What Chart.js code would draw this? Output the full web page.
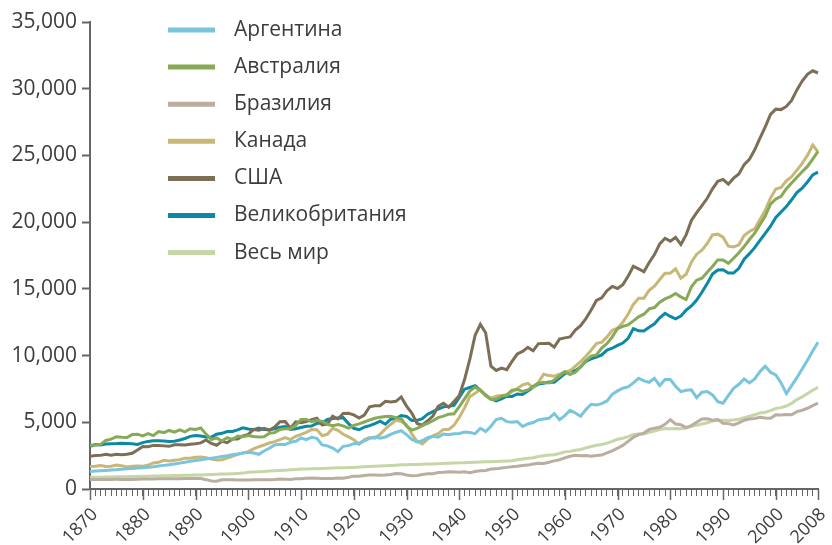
<!DOCTYPE html>
<html lang="ru">
<head>
<meta charset="utf-8">
<title>ВВП на душу населения, 1870–2008</title>
<script src="https://cdn.jsdelivr.net/npm/chart.js@4"></script>
<style>
  html, body { margin: 0; padding: 0; background: #fff; }
  #wrap { position: relative; width: 832px; height: 545px; }
</style>
</head>
<body>
<div id="wrap"><canvas id="gdpChart"></canvas></div>
<script>
// годы по оси X
const years = [];
for (let y = 1870; y <= 2008; y++) years.push(y);

// подписанные годы
const tickYears = [1870, 1880, 1890, 1900, 1910, 1920, 1930, 1940, 1950, 1960, 1970, 1980, 1990, 2000, 2008];

// ВВП на душу населения по годам, 1870–2008
const argentina = [
  1311, 1340, 1365, 1395, 1420, 1450, 1480, 1510, 1540, 1570,
  1590, 1630, 1670, 1720, 1770, 1820, 1880, 1940, 2000, 2070,
  2130, 2190, 2250, 2310, 2370, 2430, 2490, 2560, 2630, 2690,
  2756, 2700, 2600, 2850, 3050, 3300, 3350, 3330, 3500, 3580,
  3822, 3700, 3880, 3797, 3302, 3231, 3070, 2800, 3200, 3250,
  3400, 3430, 3600, 3800, 3900, 3800, 3900, 4100, 4250, 4367,
  4080, 3712, 3522, 3622, 3845, 3950, 3886, 4125, 4072, 4148,
  4161, 4265, 4230, 4150, 4550, 4300, 4700, 5200, 5300, 5050,
  5000, 5050, 4680, 4874, 4980, 5180, 5250, 5300, 5650, 5200,
  5500, 5900, 5700, 5450, 5950, 6350, 6300, 6400, 6600, 7100,
  7350, 7550, 7650, 7950, 8300, 8100, 8000, 8300, 7750, 8200,
  8206, 7700, 7300, 7400, 7430, 6850, 7250, 7300, 7050, 6550,
  6430, 7000, 7550, 7850, 8250, 7950, 8250, 8800, 9200, 8750,
  8550, 7950, 7150, 7750, 8350, 9000, 9650, 10350, 11000
];

const australia = [
  3273, 3299, 3327, 3641, 3738, 3917, 3876, 3860, 4078, 4106,
  3985, 4144, 4001, 4300, 4228, 4388, 4259, 4438, 4286, 4516,
  4458, 4571, 4114, 3708, 3831, 3595, 3844, 3703, 3962, 3911,
  4013, 3938, 3890, 3919, 4186, 4224, 4465, 4516, 4512, 4776,
  5210, 5209, 5038, 5157, 5070, 4839, 4743, 4823, 4731, 4563,
  4766, 4881, 5024, 5175, 5299, 5385, 5439, 5446, 5352, 5263,
  4708, 4416, 4542, 4744, 4921, 5115, 5347, 5459, 5610, 5631,
  6166, 6752, 7340, 7637, 7398, 7005, 6712, 6731, 6963, 7055,
  7412, 7463, 7319, 7424, 7701, 7936, 7992, 7941, 8165, 8469,
  8791, 8569, 8744, 9142, 9610, 9966, 10050, 10560, 10900, 11400,
  12024, 12190, 12300, 12600, 12900, 13100, 13500, 13600, 14000, 14250,
  14412, 14650, 14400, 14200, 15150, 15650, 15800, 16250, 16680, 17170,
  17170, 16920, 17290, 17700, 18170, 18700, 19170, 19800, 20450, 21350,
  21732, 21929, 22504, 22940, 23363, 23776, 24176, 24724, 25301
];

const brazil = [
  713, 710, 720, 718, 720, 723, 720, 715, 720, 730,
  752, 750, 755, 760, 765, 760, 770, 775, 780, 785,
  794, 780, 700, 600, 580, 690, 700, 690, 680, 675,
  678, 700, 690, 695, 700, 705, 750, 740, 720, 760,
  769, 800, 830, 811, 780, 790, 790, 820, 800, 880,
  963, 960, 1010, 1050, 1040, 1030, 1050, 1090, 1160, 1137,
  1048, 1000, 1020, 1080, 1140, 1150, 1240, 1250, 1290, 1280,
  1250, 1290, 1220, 1310, 1370, 1390, 1500, 1510, 1580, 1620,
  1672, 1700, 1760, 1790, 1870, 1930, 1910, 2010, 2110, 2190,
  2335, 2450, 2530, 2500, 2510, 2448, 2510, 2540, 2700, 2860,
  3057, 3270, 3570, 3882, 4080, 4190, 4460, 4560, 4630, 4850,
  5195, 4870, 4820, 4600, 4750, 5000, 5250, 5260, 5150, 5210,
  4923, 4900, 4800, 4950, 5150, 5250, 5280, 5380, 5330, 5300,
  5556, 5550, 5580, 5560, 5800, 5900, 6050, 6250, 6429
];

const canada = [
  1680, 1700, 1760, 1680, 1700, 1790, 1750, 1650, 1700, 1720,
  1700, 1780, 1950, 2000, 2150, 2100, 2150, 2200, 2300, 2300,
  2380, 2400, 2350, 2250, 2170, 2200, 2320, 2450, 2600, 2700,
  2800, 3000, 3170, 3300, 3450, 3550, 3700, 3850, 3700, 3950,
  4100, 4250, 4450, 4447, 4000, 4100, 4550, 4400, 4100, 3900,
  3700, 3350, 3700, 3850, 3800, 4100, 4500, 4850, 5150, 5065,
  4811, 4132, 3568, 3370, 3744, 3977, 4155, 4466, 4465, 4778,
  5368, 6079, 6925, 7169, 7447, 7000, 6800, 6950, 7000, 7050,
  7291, 7533, 7800, 7920, 7600, 8000, 8600, 8500, 8450, 8600,
  8800, 8850, 9200, 9550, 9950, 10400, 10900, 11000, 11400, 11900,
  12050, 12500, 13100, 13838, 14300, 14300, 14900, 15200, 15700, 16170,
  16176, 16500, 15800, 16100, 17000, 17600, 17900, 18400, 19040, 19100,
  18872, 18200, 18140, 18300, 19000, 19300, 19500, 20200, 20900, 21800,
  22488, 22600, 23100, 23400, 23900, 24400, 25000, 25780, 25267
];

const usa = [
  2445, 2503, 2520, 2601, 2531, 2599, 2568, 2606, 2681, 2920,
  3184, 3164, 3266, 3261, 3232, 3197, 3309, 3312, 3294, 3346,
  3392, 3453, 3675, 3418, 3279, 3576, 3470, 3740, 3747, 3988,
  4091, 4467, 4399, 4549, 4404, 4642, 5046, 5052, 4552, 5037,
  4964, 5046, 5201, 5301, 4799, 4864, 5459, 5248, 5659, 5680,
  5552, 5323, 5540, 6164, 6233, 6246, 6575, 6525, 6569, 6899,
  6213, 5691, 4908, 4777, 5114, 5467, 6204, 6430, 6126, 6561,
  7010, 8206, 9741, 11518, 12333, 11709, 9197, 8886, 9065, 8944,
  9561, 10116, 10316, 10613, 10359, 10897, 10914, 10920, 10631, 11230,
  11328, 11402, 11905, 12242, 12773, 13419, 14134, 14330, 14863, 15179,
  15030, 15304, 15944, 16689, 16491, 16284, 16975, 17567, 18373, 18789,
  18577, 18856, 18325, 19048, 20123, 20717, 21236, 21788, 22499, 23059,
  23201, 22849, 23298, 23616, 24311, 24703, 25422, 26292, 27142, 28079,
  28467, 28434, 28672, 29127, 29908, 30572, 31080, 31346, 31178
];

const uk = [
  3190, 3332, 3307, 3368, 3398, 3405, 3426, 3409, 3395, 3337,
  3477, 3568, 3624, 3618, 3597, 3558, 3581, 3676, 3786, 3943,
  4009, 3968, 3893, 3887, 4102, 4172, 4301, 4316, 4429, 4585,
  4492, 4450, 4567, 4450, 4444, 4521, 4627, 4678, 4457, 4513,
  4611, 4706, 4714, 4921, 4927, 5208, 5289, 5316, 5347, 4901,
  4548, 4439, 4637, 4746, 4898, 5079, 4853, 5231, 5274, 5503,
  5441, 5138, 5148, 5277, 5608, 5799, 5994, 6157, 6204, 6262,
  6856, 7482, 7609, 7745, 7394, 7056, 6749, 6604, 6746, 6956,
  6939, 7123, 7091, 7346, 7619, 7868, 7929, 8017, 8004, 8306,
  8645, 8857, 8865, 9149, 9568, 9752, 9885, 10049, 10410, 10552,
  10767, 10941, 11294, 12025, 11859, 11847, 12115, 12384, 12828, 13167,
  12931, 12747, 12955, 13404, 13720, 14165, 14742, 15393, 16110, 16414,
  16430, 16186, 16180, 16537, 17222, 17641, 18090, 18632, 19159, 19697,
  20353, 20763, 21165, 21676, 22213, 22550, 23013, 23545, 23742
];

const world = [
  873, 880, 888, 895, 902, 910, 918, 926, 934, 942,
  950, 959, 968, 977, 986, 995, 1005, 1015, 1025, 1035,
  1045, 1058, 1072, 1085, 1100, 1115, 1130, 1150, 1170, 1190,
  1262, 1280, 1300, 1320, 1340, 1360, 1385, 1410, 1440, 1470,
  1490, 1505, 1515, 1526, 1540, 1555, 1570, 1585, 1600, 1610,
  1620, 1640, 1660, 1680, 1700, 1720, 1740, 1760, 1785, 1810,
  1820, 1830, 1840, 1850, 1865, 1880, 1895, 1910, 1925, 1940,
  1958, 1975, 1990, 2005, 2020, 2035, 2050, 2065, 2080, 2095,
  2113, 2190, 2250, 2310, 2350, 2440, 2500, 2550, 2570, 2660,
  2781, 2820, 2900, 2960, 3080, 3180, 3280, 3330, 3440, 3570,
  3727, 3800, 3920, 4091, 4120, 4130, 4250, 4340, 4450, 4540,
  4514, 4540, 4510, 4570, 4700, 4780, 4870, 4970, 5100, 5150,
  5150, 5140, 5180, 5220, 5340, 5450, 5560, 5690, 5750, 5870,
  6041, 6100, 6220, 6420, 6700, 6900, 7150, 7400, 7614
];

const FONT = '"Open Sans", "DejaVu Sans", sans-serif';
const TEXT_COLOR = '#3c3c3c';
const AXIS_COLOR = '#666666';

const SERIES = [
  { label: 'Аргентина', data: argentina, color: '#78c5dd' },
  { label: 'Австралия', data: australia, color: '#87aa57' },
  { label: 'Бразилия', data: brazil, color: '#b9ae9f' },
  { label: 'Канада', data: canada, color: '#c9b778' },
  { label: 'США', data: usa, color: '#7d6e56' },
  { label: 'Великобритания', data: uk, color: '#0b89a5' },
  { label: 'Весь мир', data: world, color: '#c6d6a6' }
];

// легенда внутри области графика, столбиком
const insideLegend = {
  id: 'insideLegend',
  afterDraw(chart) {
    const ctx = chart.ctx;
    const area = chart.chartArea;
    const x0 = area.left + 78;
    const lineLen = 47;
    ctx.save();
    ctx.font = '21px ' + FONT;
    ctx.textBaseline = 'middle';
    chart.data.datasets.forEach((ds, i) => {
      const y = area.top + 8 + i * 37.1;
      ctx.strokeStyle = ds.borderColor;
      ctx.lineWidth = 5;
      ctx.beginPath();
      ctx.moveTo(x0, y);
      ctx.lineTo(x0 + lineLen, y);
      ctx.stroke();
      ctx.fillStyle = TEXT_COLOR;
      ctx.fillText(ds.label, x0 + lineLen + 19, y);
    });
    ctx.restore();
  }
};

// длинные засечки на каждом десятилетии
const decadeTicks = {
  id: 'decadeTicks',
  afterDraw(chart) {
    const xs = chart.scales.x;
    const ctx = chart.ctx;
    const y0 = chart.chartArea.bottom;
    ctx.save();
    ctx.strokeStyle = AXIS_COLOR;
    ctx.lineWidth = 1.5;
    tickYears.forEach(yr => {
      const px = Math.round(xs.getPixelForValue(years.indexOf(yr))) + 0.5;
      ctx.beginPath();
      ctx.moveTo(px, y0);
      ctx.lineTo(px, y0 + 11);
      ctx.stroke();
    });
    ctx.restore();
  }
};

new Chart(document.getElementById('gdpChart'), {
  type: 'line',
  data: {
    labels: years,
    datasets: SERIES.map(s => ({
      label: s.label,
      data: s.data,
      borderColor: s.color,
      backgroundColor: s.color,
      borderWidth: 3,
      pointRadius: 0,
      tension: 0,
      fill: false
    }))
  },
  options: {
    responsive: true,
    maintainAspectRatio: false,
    animation: false,
    layout: { padding: { top: 22, right: 14, left: 0, bottom: 0 } },
    plugins: {
      legend: { display: false },
      tooltip: { enabled: false }
    },
    scales: {
      x: {
        type: 'category',
        offset: false,
        border: { color: AXIS_COLOR, width: 2 },
        grid: { drawOnChartArea: false, drawTicks: true, tickLength: 7, tickColor: AXIS_COLOR, tickWidth: 1 },
        ticks: {
          autoSkip: false,
          minRotation: 45,
          maxRotation: 45,
          padding: 8,
          labelOffset: 5,
          color: TEXT_COLOR,
          font: { family: FONT, size: 18 },
          callback: function (value, index) {
            const yr = years[index];
            return tickYears.includes(yr) ? String(yr) : '';
          }
        },
        afterFit: scale => {
          scale.height = 56;
          scale.paddingRight = 0;
          scale.paddingLeft = 0;
        }
      },
      y: {
        min: 0,
        max: 35000,
        border: { color: AXIS_COLOR, width: 2 },
        grid: { drawOnChartArea: false, drawTicks: true, tickLength: 8, tickColor: AXIS_COLOR, tickWidth: 2 },
        ticks: {
          stepSize: 5000,
          padding: 5,
          color: TEXT_COLOR,
          font: { family: FONT, size: 21 },
          callback: v => v.toLocaleString('en-US')
        },
        afterFit: scale => { scale.width = 90; }
      }
    }
  },
  plugins: [insideLegend, decadeTicks]
});
</script>
</body>
</html>
